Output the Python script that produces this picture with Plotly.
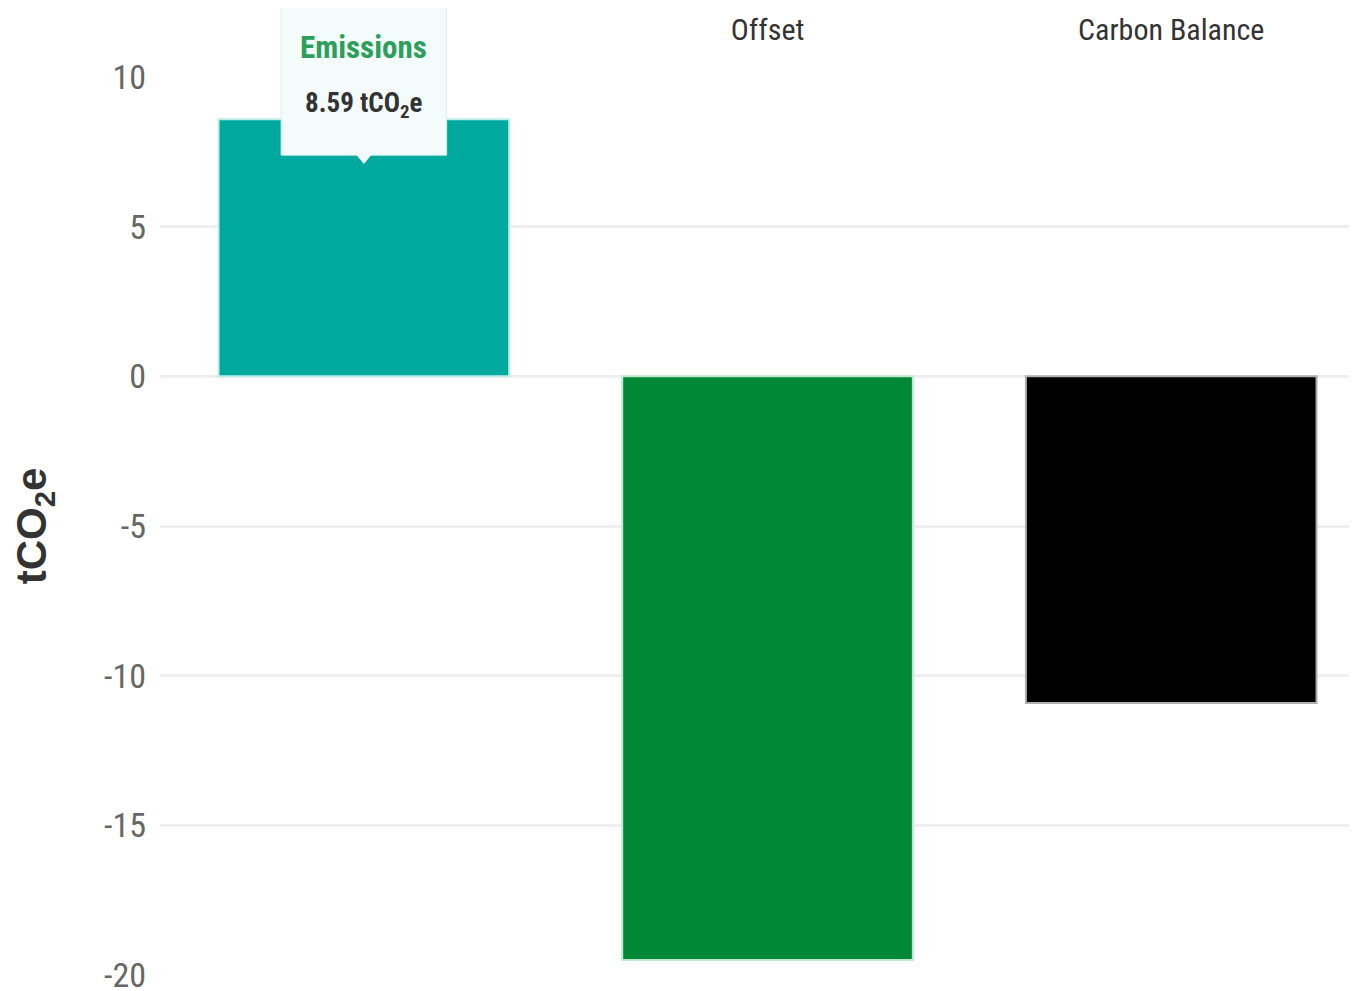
import plotly.graph_objects as go

categories = ["Emissions", "Offset", "Carbon Balance"]
values = [8.59, -19.5, -10.91]
colors = ["#00A99D", "#008837", "#000000"]
edge_colors = ["#bdeeea", "#bfe8cf", "#b0b0b0"]
y_ticks = [10, 5, 0, -5, -10, -15, -20]
y_title = "tCO<sub>2</sub>e"
tooltip_label = "Emissions"
tooltip_value = "8.59 tCO<sub>2</sub>e"

NARROW = "Roboto Condensed, Liberation Sans Narrow, Arial Narrow, sans-serif"
WIDE = "Liberation Sans, Arial, sans-serif"

fig = go.Figure()
fig.add_trace(go.Bar(
    x=categories, y=values,
    marker=dict(color=colors, line=dict(color=edge_colors, width=2)),
    width=0.72,
    showlegend=False,
    hoverinfo="skip",
))

# tooltip box with pointer (covers the first category label, as in the reference)
fig.add_shape(type="rect", xref="x", yref="paper",
              x0=-0.205, x1=0.205, y0=0.913, y1=1.09,
              fillcolor="#f3fcfb", line=dict(color="#d8f0ee", width=1),
              layer="above")
fig.add_shape(type="path", xref="x", yref="paper",
              path="M -0.02 0.914 L 0 0.903 L 0.02 0.914 Z",
              fillcolor="#f3fcfb", line=dict(width=0),
              layer="above")
fig.add_annotation(
    x=0, xref="x", y=1.0323, yref="paper",
    text=f"<b>{tooltip_label}</b>", showarrow=False,
    xanchor="center", yanchor="middle",
    font=dict(family=NARROW, size=31, color="#2e9e5b"),
)
fig.add_annotation(
    x=0, xref="x", y=0.9688, yref="paper",
    text=f"<b>{tooltip_value}</b>", showarrow=False,
    xanchor="center", yanchor="middle",
    font=dict(family=NARROW, size=27, color="#333333"),
)

fig.update_layout(
    width=1357, height=991,
    margin=dict(l=152, r=0, t=69, b=24),
    paper_bgcolor="white", plot_bgcolor="white",
    font=dict(family=NARROW, size=24, color="#555555"),
    bargap=0.28,
)
fig.update_xaxes(
    side="top", range=[-0.505, 2.48], automargin=False,
    showgrid=False, showline=False, ticks="",
    ticklabelstandoff=30,
    tickfont=dict(family=NARROW, size=30, color="#333333"),
)
fig.update_yaxes(
    range=[-20, 10], tickvals=y_ticks, ticktext=[str(v) for v in y_ticks],
    automargin=False,
    showgrid=True, gridcolor="#efefef", gridwidth=3,
    zeroline=True, zerolinecolor="#efefef", zerolinewidth=3,
    showline=False, ticks="", ticklen=0,
    ticklabelstandoff=13,
    tickfont=dict(family=NARROW, size=34, color="#666666"),
    title=dict(text=f"<b>{y_title}</b>", font=dict(family=WIDE, size=42, color="#333333"), standoff=50),
)

fig.write_html("out.html")
